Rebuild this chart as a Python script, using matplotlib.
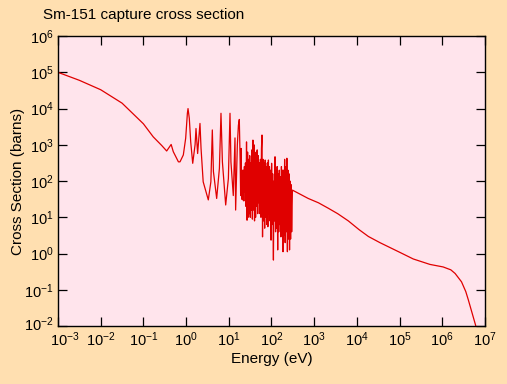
import numpy as np
import matplotlib
matplotlib.use("Agg")
import matplotlib.pyplot as plt
import matplotlib.transforms as mtransforms

plt.rcParams['font.family'] = ['Liberation Sans', 'DejaVu Sans']
plt.rcParams['mathtext.fontset'] = 'custom'
plt.rcParams['mathtext.rm'] = 'Liberation Sans'
plt.rcParams['mathtext.it'] = 'Liberation Sans'

# log10(energy / eV) and log10(cross section / barns)
# thermal region + first resonances
log_e_low = [-3.0, -2.5, -2.0, -1.5, -1.0, -0.77, -0.57, -0.455,
             -0.35, -0.30, -0.18, -0.143, -0.065, -0.01, 0.03, 0.045, 0.075,
             0.108, 0.155, 0.21, 0.232, 0.27, 0.325, 0.35, 0.40, 0.52, 0.58,
             0.614, 0.64, 0.716, 0.78, 0.817, 0.85, 0.927, 0.99, 1.028, 1.05,
             1.105, 1.145, 1.16, 1.20, 1.225, 1.246]
log_s_low = [5.0, 4.78, 4.52, 4.15, 3.58, 3.22, 2.98, 2.83,
             3.01, 2.81, 2.53, 2.53, 2.72, 3.18, 3.87, 4.0, 3.73,
             3.08, 2.49, 3.0, 3.45, 2.76, 3.59, 2.9, 1.98, 1.48, 1.98,
             3.41, 2.26, 1.52, 2.35, 3.87, 2.53, 1.34, 2.07, 3.87, 2.53,
             1.6, 3.19, 1.2, 3.0, 3.54, 3.70]

# dense resonance region (alternating tops and bottoms)
log_e_res = [1.265, 1.2775, 1.29, 1.3025, 1.315, 1.3275, 1.34, 1.3525,
             1.365, 1.3775, 1.39, 1.4025, 1.415, 1.4275, 1.44, 1.4525,
             1.465, 1.4775, 1.49, 1.5025, 1.515, 1.5275, 1.54, 1.5525,
             1.565, 1.5775, 1.59, 1.6025, 1.615, 1.6275, 1.64, 1.6525,
             1.665, 1.6775, 1.69, 1.7025, 1.715, 1.7275, 1.74, 1.7525,
             1.765, 1.7775, 1.79, 1.8025, 1.815, 1.8275, 1.84, 1.8525,
             1.865, 1.8775, 1.89, 1.9025, 1.915, 1.9275, 1.94, 1.9525,
             1.965, 1.9775, 1.99, 2.0025, 2.015, 2.0275, 2.045, 2.0575,
             2.07, 2.0825, 2.095, 2.1075, 2.12, 2.1325, 2.145, 2.1575,
             2.17, 2.1825, 2.195, 2.2075, 2.22, 2.2325, 2.245, 2.2575,
             2.27, 2.2825, 2.295, 2.3075, 2.32, 2.3325, 2.345, 2.36,
             2.3725, 2.385, 2.3975, 2.41, 2.4225, 2.435, 2.4475, 2.46,
             2.4725, 2.49]
log_s_res = [2.6, 1.6, 2.9, 1.5, 2.3, 1.48, 2.3, 1.45,
             2.4, 1.7, 2.5, 1.3, 3.08, 0.92, 2.8, 1.0,
             2.6, 1.1, 2.7, 1.0, 2.5, 1.2, 2.86, 0.95,
             3.13, 1.2, 3.0, 0.9, 2.7, 1.0, 2.8, 1.3,
             2.86, 1.1, 2.7, 1.4, 2.5, 1.1, 2.6, 1.0,
             2.9, 3.27, 0.46, 2.6, 0.9, 2.5, 0.7, 2.58,
             1.0, 2.4, 0.8, 2.5, 0.74, 2.58, 1.1, 2.4,
             0.9, 2.3, 0.37, 2.49, 0.8, 2.2, -0.18, 2.0,
             0.9, 2.67, 0.6, 2.3, 0.7, 2.4, 0.1, 2.2,
             0.6, 2.3, 0.8, 2.12, 0.46, 2.4, 0.7, 2.3,
             0.05, 2.3, 0.5, 2.6, 0.3, 2.4, 0.6, 2.63,
             0.05, 2.3, 0.4, 2.2, 0.1, 2.0, 0.4, 1.9,
             0.6, 1.75]

# smooth high-energy tail
log_e_high = [2.86, 3.1, 3.33, 3.55, 3.80, 4.05, 4.27, 4.54, 4.89, 5.01,
              5.32, 5.71, 6.02, 6.2, 6.30, 6.45, 6.55, 6.61, 6.79, 6.85]
log_s_high = [1.52, 1.40, 1.25, 1.10, 0.90, 0.66, 0.47, 0.30, 0.10, 0.03,
              -0.15, -0.30, -0.37, -0.45, -0.55, -0.78, -1.05, -1.28, -2.02, -2.3]

energy = 10.0 ** np.array(log_e_low + log_e_res + log_e_high)
xs = 10.0 ** np.array(log_s_low + log_s_res + log_s_high)

fig = plt.figure(figsize=(5.07, 3.84), dpi=100, facecolor='#ffdfb0')
ax = fig.add_axes([0.1144, 0.151, 0.8422, 0.755])
ax.set_facecolor('#ffe4ec')

ax.plot(energy, xs, color='#e00000', lw=0.9)

ax.set_xscale('log')
ax.set_yscale('log')
ax.set_xlim(1e-3, 1e7)
ax.set_ylim(1e-2, 1e6)
ax.set_xticks([10.0 ** k for k in range(-3, 8)])
ax.set_yticks([10.0 ** k for k in range(-2, 7)])
ax.minorticks_off()

ax.tick_params(which='major', direction='in', length=6.5, width=0.9,
               top=True, right=True, labelsize=10.5, pad=3)
ax.tick_params(axis='x', pad=3)
for s in ax.spines.values():
    s.set_linewidth(1.0)

# nudge the first x label right and the first y label up so they don't collide
fig.canvas.draw()
xl = ax.get_xticklabels()[0]
xl.set_transform(xl.get_transform() + mtransforms.ScaledTranslation(5 / 72, 0, fig.dpi_scale_trans))
yl = ax.get_yticklabels()[0]
yl.set_transform(yl.get_transform() + mtransforms.ScaledTranslation(0, 2 / 72, fig.dpi_scale_trans))

ax.set_xlabel('Energy (eV)', fontsize=11)
ax.set_ylabel('Cross Section (barns)', fontsize=11)
ax.xaxis.set_label_coords(0.5, -0.114)
ax.yaxis.set_label_coords(-0.094, 0.5)
ax.xaxis.label.set_va('center')
ax.yaxis.label.set_va('center')
fig.text(0.085, 0.96, 'Sm-151 capture cross section', fontsize=11,
         ha='left', va='center')

fig.savefig('out.png', dpi=100, facecolor=fig.get_facecolor())
